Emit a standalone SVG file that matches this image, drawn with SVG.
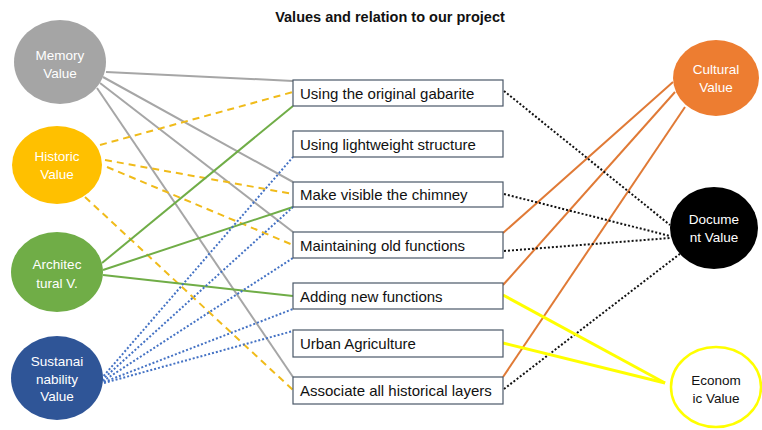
<svg xmlns="http://www.w3.org/2000/svg" width="762" height="430" viewBox="0 0 762 430">
<style>
.title{font-family:"Liberation Sans",Arial,sans-serif;font-size:14.5px;font-weight:bold;fill:#111}
.ct{font-family:"Liberation Sans",Arial,sans-serif;font-size:13.5px;fill:#fff;text-anchor:middle;dominant-baseline:central}
.bt{font-family:"Liberation Sans",Arial,sans-serif;font-size:15px;fill:#111;dominant-baseline:central}
.box{fill:#fff;stroke:#4a5868;stroke-width:1.2}
.gray{stroke:#a6a6a6;stroke-width:2;fill:none}
.hist{stroke:#f0bb1a;stroke-width:2;stroke-dasharray:7 5;fill:none}
.arch{stroke:#70ad47;stroke-width:2;fill:none}
.sust{stroke:#4472c4;stroke-width:2;stroke-dasharray:2 2;fill:none}
.cult{stroke:#e07a36;stroke-width:2;fill:none}
.doc{stroke:#111;stroke-width:2;stroke-dasharray:2 2;fill:none}
.eco{stroke:#ffff00;stroke-width:3;fill:none}
</style>
<rect width="762" height="430" fill="#fff"/>
<text class="title" x="390" y="22" text-anchor="middle">Values and relation to our project</text>
<g id="connectors">
<line class="gray" x1="106" y1="72" x2="293" y2="81"/>
<line class="gray" x1="103" y1="77" x2="293" y2="182"/>
<line class="gray" x1="100" y1="83" x2="293" y2="232"/>
<line class="gray" x1="97" y1="88" x2="293" y2="377"/>
<line class="hist" x1="100" y1="145" x2="293" y2="92"/>
<line class="hist" x1="105" y1="160" x2="293" y2="194"/>
<line class="hist" x1="107" y1="167" x2="293" y2="245"/>
<line class="hist" x1="85" y1="197" x2="293" y2="390"/>
<line class="arch" x1="102" y1="263" x2="293" y2="106"/>
<line class="arch" x1="103" y1="270" x2="293" y2="207"/>
<line class="arch" x1="103" y1="275" x2="293" y2="296"/>
<line class="sust" x1="101" y1="379" x2="293" y2="157"/>
<line class="sust" x1="102" y1="380" x2="293" y2="207"/>
<line class="sust" x1="103" y1="381" x2="293" y2="258"/>
<line class="sust" x1="104" y1="382" x2="293" y2="309"/>
<line class="sust" x1="104" y1="383" x2="293" y2="331"/>
<line class="cult" x1="673" y1="82" x2="503" y2="233"/>
<line class="cult" x1="675" y1="92" x2="503" y2="285"/>
<line class="cult" x1="685" y1="107" x2="503" y2="377"/>
<line class="doc" x1="504" y1="91" x2="670" y2="225"/>
<line class="doc" x1="504" y1="194" x2="670" y2="236"/>
<line class="doc" x1="504" y1="251" x2="670" y2="238"/>
<line class="doc" x1="504" y1="389" x2="681" y2="253"/>
<line class="eco" x1="503" y1="295" x2="665" y2="383"/>
<line class="eco" x1="503" y1="343" x2="665" y2="383"/>
</g>
<g id="memory"><ellipse cx="60" cy="62" rx="46" ry="42" fill="#a5a5a5"/><text class="ct" x="60" y="55">Memory</text><text class="ct" x="60" y="73">Value</text></g>
<g id="historic"><ellipse cx="57" cy="165" rx="45" ry="39" fill="#ffc000"/><text class="ct" x="57" y="156">Historic</text><text class="ct" x="57" y="174">Value</text></g>
<g id="architectural"><ellipse cx="57" cy="272" rx="46" ry="40" fill="#70ad47"/><text class="ct" x="57" y="264">Architec</text><text class="ct" x="57" y="283">tural V.</text></g>
<g id="sustainability"><ellipse cx="57" cy="378" rx="46" ry="42" fill="#2f5597"/><text class="ct" x="57" y="361">Sustanai</text><text class="ct" x="57" y="379">nability</text><text class="ct" x="57" y="396">Value</text></g>
<g id="cultural"><ellipse cx="716" cy="78" rx="43" ry="38" fill="#ed7d31"/><text class="ct" x="716" y="69">Cultural</text><text class="ct" x="716" y="87">Value</text></g>
<g id="document"><ellipse cx="714" cy="228" rx="44" ry="41" fill="#000"/><text class="ct" x="714" y="219">Docume</text><text class="ct" x="714" y="237">nt Value</text></g>
<g id="economic"><ellipse cx="716" cy="387" rx="45" ry="40" fill="#fff" stroke="#ffff00" stroke-width="2.5"/><text class="ct" x="716" y="380" style="fill:#111">Econom</text><text class="ct" x="716" y="398" style="fill:#111">ic Value</text></g>
<g id="b1"><rect class="box" x="293" y="80" width="210" height="26"/><text class="bt" x="300" y="93">Using the original gabarite</text></g>
<g id="b2"><rect class="box" x="293" y="131" width="210" height="26"/><text class="bt" x="300" y="144">Using lightweight structure</text></g>
<g id="b3"><rect class="box" x="293" y="182" width="210" height="25"/><text class="bt" x="300" y="194.5">Make visible the chimney</text></g>
<g id="b4"><rect class="box" x="293" y="232" width="210" height="26"/><text class="bt" x="300" y="245">Maintaining old functions</text></g>
<g id="b5"><rect class="box" x="293" y="283" width="210" height="26"/><text class="bt" x="300" y="296">Adding new functions</text></g>
<g id="b6"><rect class="box" x="293" y="330" width="210" height="27"/><text class="bt" x="300" y="343.5">Urban Agriculture</text></g>
<g id="b7"><rect class="box" x="293" y="377" width="210" height="27"/><text class="bt" x="300" y="390.5">Associate all historical layers</text></g>
</svg>
